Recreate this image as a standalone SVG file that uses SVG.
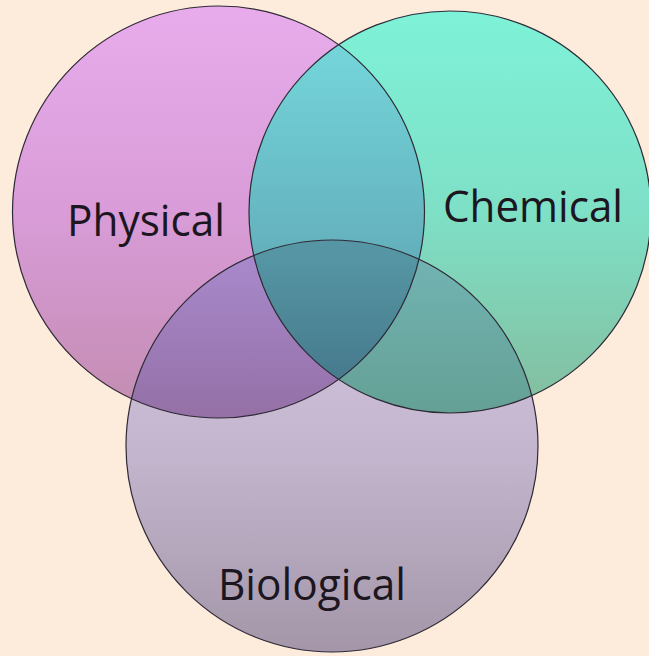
<svg xmlns="http://www.w3.org/2000/svg" width="649" height="656" viewBox="0 0 649 656">
  <style>
    .lbl { font-family: "Open Sans", "Noto Sans", "Liberation Sans", sans-serif; font-size: 44px; fill: #1c1620; }
    .outline { fill: none; stroke: #2e2a36; stroke-width: 1.2; }
  </style>
  <defs>
    <linearGradient id="gP" gradientUnits="userSpaceOnUse" x1="0" y1="6" x2="0" y2="418">
      <stop offset="0" stop-color="#E8ACEC"/>
      <stop offset="0.5" stop-color="#D99CD8"/>
      <stop offset="1" stop-color="#C28CB0"/>
    </linearGradient>
    <linearGradient id="gC" gradientUnits="userSpaceOnUse" x1="0" y1="11" x2="0" y2="413">
      <stop offset="0" stop-color="#7EF2D8"/>
      <stop offset="0.5" stop-color="#7EE0C6"/>
      <stop offset="1" stop-color="#84BC9E"/>
    </linearGradient>
    <linearGradient id="gB" gradientUnits="userSpaceOnUse" x1="0" y1="243" x2="0" y2="655">
      <stop offset="0" stop-color="#D8C8E6"/>
      <stop offset="0.5" stop-color="#C4B6CE"/>
      <stop offset="1" stop-color="#A496A8"/>
    </linearGradient>
    <linearGradient id="gPC" gradientUnits="userSpaceOnUse" x1="0" y1="44" x2="0" y2="380">
      <stop offset="0" stop-color="#74D6DA"/>
      <stop offset="1" stop-color="#5A9AAA"/>
    </linearGradient>
    <linearGradient id="gPB" gradientUnits="userSpaceOnUse" x1="0" y1="262" x2="0" y2="418">
      <stop offset="0" stop-color="#A888CA"/>
      <stop offset="1" stop-color="#9470A6"/>
    </linearGradient>
    <linearGradient id="gCB" gradientUnits="userSpaceOnUse" x1="0" y1="255" x2="0" y2="413">
      <stop offset="0" stop-color="#72B4B4"/>
      <stop offset="1" stop-color="#64A094"/>
    </linearGradient>
    <linearGradient id="gPCB" gradientUnits="userSpaceOnUse" x1="0" y1="255" x2="0" y2="380">
      <stop offset="0" stop-color="#5696A4"/>
      <stop offset="1" stop-color="#467A8C"/>
    </linearGradient>
    <clipPath id="clipP"><circle cx="218.5" cy="212" r="206"/></clipPath>
    <clipPath id="clipC"><circle cx="450" cy="212" r="201"/></clipPath>
  </defs>

  <rect width="649" height="656" fill="#FDEBDC"/>

  <g id="physical">
    <circle cx="218.5" cy="212" r="206" fill="url(#gP)"/>
  </g>
  <g id="chemical">
    <circle cx="450" cy="212" r="201" fill="url(#gC)"/>
  </g>
  <g id="biological">
    <circle cx="332" cy="446" r="206" fill="url(#gB)"/>
  </g>

  <g id="overlaps">
    <g clip-path="url(#clipP)">
      <circle cx="450" cy="212" r="201" fill="url(#gPC)"/>
      <circle cx="332" cy="446" r="206" fill="url(#gPB)"/>
    </g>
    <g clip-path="url(#clipC)">
      <circle cx="332" cy="446" r="206" fill="url(#gCB)"/>
    </g>
    <g clip-path="url(#clipP)">
      <g clip-path="url(#clipC)">
        <circle cx="332" cy="446" r="206" fill="url(#gPCB)"/>
      </g>
    </g>
  </g>

  <g id="outlines">
    <circle class="outline" cx="218.5" cy="212" r="206"/>
    <circle class="outline" cx="450" cy="212" r="201"/>
    <circle class="outline" cx="332" cy="446" r="206"/>
  </g>

  <g id="labels">
    <text class="lbl" x="67" y="236" textLength="158" lengthAdjust="spacingAndGlyphs">Physical</text>
    <text class="lbl" x="443" y="222" textLength="180" lengthAdjust="spacingAndGlyphs">Chemical</text>
    <text class="lbl" x="218" y="600" textLength="188" lengthAdjust="spacingAndGlyphs">Biological</text>
  </g>
</svg>
